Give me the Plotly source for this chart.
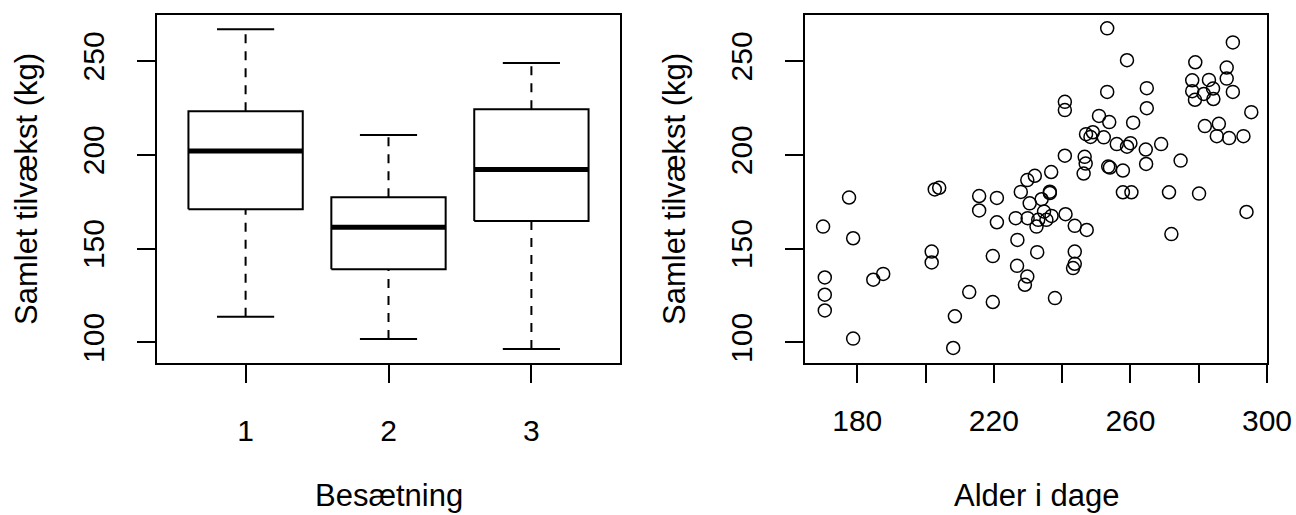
import plotly.graph_objects as go

# ---------------- data ----------------
herd_labels = ["1", "2", "3"]
herd_pos = [1, 2, 3]
box_lower = [113.7, 101.8, 96.5]
box_q1 = [171.0, 139.0, 164.7]
box_median = [202.0, 161.4, 192.2]
box_q3 = [223.2, 177.3, 224.3]
box_upper = [266.9, 210.5, 248.9]

age = [177.6, 170.0, 178.8, 170.5, 170.5, 170.5, 184.7, 187.6, 178.8,
       202.7, 204.0, 215.7, 215.7, 220.9, 220.9, 201.8, 201.8, 219.7, 212.8,
       219.7, 208.6, 208.1,
       240.8, 240.8, 240.8, 241.0, 236.8, 232.0, 229.8, 227.9, 236.4, 236.4,
       234.0, 230.5, 226.4, 229.9, 234.7, 236.9, 233.0, 235.4, 232.5, 243.7,
       247.2, 226.9, 232.7, 243.7, 243.7, 243.2, 226.8, 229.8, 229.1, 237.9,
       253.2, 259.0, 253.2, 264.8, 264.8, 250.8, 253.8, 260.8, 247.0, 248.3,
       249.0, 252.2, 256.0, 260.0, 259.0, 264.5, 264.6, 269.0, 274.7, 246.6,
       246.9, 246.3, 253.5, 254.0, 257.8, 257.8, 260.3, 271.3, 272.0,
       290.0, 279.0, 288.2, 288.2, 278.1, 283.0, 290.0, 278.1, 281.5, 284.2,
       278.9, 284.3, 295.4, 281.8, 285.9, 285.3, 288.9, 293.1, 280.1, 294.0]
gain = [177.2, 161.7, 155.5, 134.6, 125.4, 117.0, 133.4, 136.5, 102.0,
        181.5, 182.4, 178.0, 170.3, 177.0, 164.0, 148.4, 142.6, 146.0, 126.8,
        121.5, 113.9, 97.0,
        228.2, 223.8, 199.5, 168.3, 190.8, 188.8, 186.5, 180.2, 180.3, 179.6,
        176.3, 174.1, 166.2, 166.2, 169.7, 167.4, 165.3, 165.3, 161.7, 162.1,
        159.9, 154.6, 148.1, 148.4, 141.9, 139.6, 140.8, 135.1, 130.7, 123.6,
        267.4, 250.4, 233.5, 235.5, 224.8, 220.7, 217.4, 217.1, 211.0, 209.5,
        212.0, 209.3, 205.7, 206.2, 204.3, 202.8, 195.1, 205.7, 196.9, 198.9,
        195.3, 190.0, 193.7, 193.2, 191.6, 180.0, 180.0, 180.0, 157.7,
        259.9, 249.3, 246.5, 240.6, 239.7, 239.9, 233.5, 233.9, 232.4, 235.3,
        229.3, 229.7, 222.7, 215.3, 216.5, 209.9, 208.9, 209.9, 179.3, 169.5]

y_ticks = [100, 150, 200, 250]
age_ticks = [180, 200, 220, 240, 260, 280, 300]
age_tick_text = ["180", "", "220", "", "260", "", "300"]

# ---------------- layout helpers ----------------
W, H = 1296, 515
FONT = "Liberation Sans, Arial, sans-serif"
FS = 30
FS_TITLE = 31


def xdom(a, b):
    return [a / W, b / W]


def ydom(top, bottom):
    return [1 - bottom / H, 1 - top / H]


# ---------------- box plot pieces ----------------
wx, wy, cx, cy, bx, by, mx, my = [], [], [], [], [], [], [], []
for p, lo, q1, md, q3, hi in zip(herd_pos, box_lower, box_q1, box_median, box_q3, box_upper):
    wx += [p, p, None, p, p, None]
    wy += [lo, q1, None, q3, hi, None]
    cx += [p - 0.2, p + 0.2, None, p - 0.2, p + 0.2, None]
    cy += [lo, lo, None, hi, hi, None]
    bx += [p - 0.4, p + 0.4, p + 0.4, p - 0.4, p - 0.4, None]
    by += [q1, q1, q3, q3, q1, None]
    mx += [p - 0.4, p + 0.4, None]
    my += [md, md, None]

fig = go.Figure()
fig.add_trace(go.Scatter(x=wx, y=wy, mode="lines", line=dict(color="black", width=2, dash="9px,8px"),
                         hoverinfo="skip", xaxis="x", yaxis="y"))
fig.add_trace(go.Scatter(x=cx, y=cy, mode="lines", line=dict(color="black", width=2),
                         hoverinfo="skip", xaxis="x", yaxis="y"))
fig.add_trace(go.Scatter(x=bx, y=by, mode="lines", line=dict(color="black", width=2),
                         hoverinfo="skip", xaxis="x", yaxis="y"))
fig.add_trace(go.Scatter(x=mx, y=my, mode="lines", line=dict(color="black", width=5),
                         hoverinfo="skip", xaxis="x", yaxis="y"))

# ---------------- scatter ----------------
fig.add_trace(go.Scatter(x=age, y=gain, mode="markers",
                         marker=dict(symbol="circle-open", size=13, color="black", line=dict(width=1.5)),
                         xaxis="x2", yaxis="y2"))

axis_common = dict(showline=True, mirror=True, linecolor="black", linewidth=2,
                   ticks="outside", ticklen=18, tickwidth=2, tickcolor="black",
                   showgrid=False, zeroline=False, automargin=False,
                   tickfont=dict(family=FONT, size=FS, color="black"))

fig.update_layout(
    width=W, height=H,
    margin=dict(l=0, r=0, t=0, b=0, autoexpand=False),
    paper_bgcolor="white", plot_bgcolor="white",
    showlegend=False,
    xaxis=dict(domain=xdom(157, 620), range=[0.38, 3.62], tickvals=herd_pos, ticktext=herd_labels,
               anchor="y", ticklabelstandoff=22, **axis_common),
    yaxis=dict(domain=ydom(15, 363), range=[89.0, 274.5], tickvals=y_ticks, tickangle=-90,
               anchor="x", ticklabelstandoff=21, **axis_common),
    xaxis2=dict(domain=xdom(805, 1267), range=[164.7, 300.0], tickvals=age_ticks, ticktext=age_tick_text,
                anchor="y2", ticklabelstandoff=12, **axis_common),
    yaxis2=dict(domain=ydom(15, 363), range=[89.0, 274.5], tickvals=y_ticks, tickangle=-90,
                anchor="x2", ticklabelstandoff=21, **axis_common),
    annotations=[
        dict(text="Besætning", x=388.5 / W, y=1 - 495 / H, xref="paper", yref="paper",
             showarrow=False, xanchor="center", yanchor="middle",
             font=dict(family=FONT, size=FS_TITLE, color="black")),
        dict(text="Alder i dage", x=1036 / W, y=1 - 495 / H, xref="paper", yref="paper",
             showarrow=False, xanchor="center", yanchor="middle",
             font=dict(family=FONT, size=FS_TITLE, color="black")),
        dict(text="Samlet tilvækst (kg)", x=27 / W, y=1 - 189 / H, xref="paper", yref="paper",
             showarrow=False, xanchor="center", yanchor="middle", textangle=-90,
             font=dict(family=FONT, size=FS_TITLE, color="black")),
        dict(text="Samlet tilvækst (kg)", x=675 / W, y=1 - 189 / H, xref="paper", yref="paper",
             showarrow=False, xanchor="center", yanchor="middle", textangle=-90,
             font=dict(family=FONT, size=FS_TITLE, color="black")),
    ],
)

fig.write_html("out.html")
